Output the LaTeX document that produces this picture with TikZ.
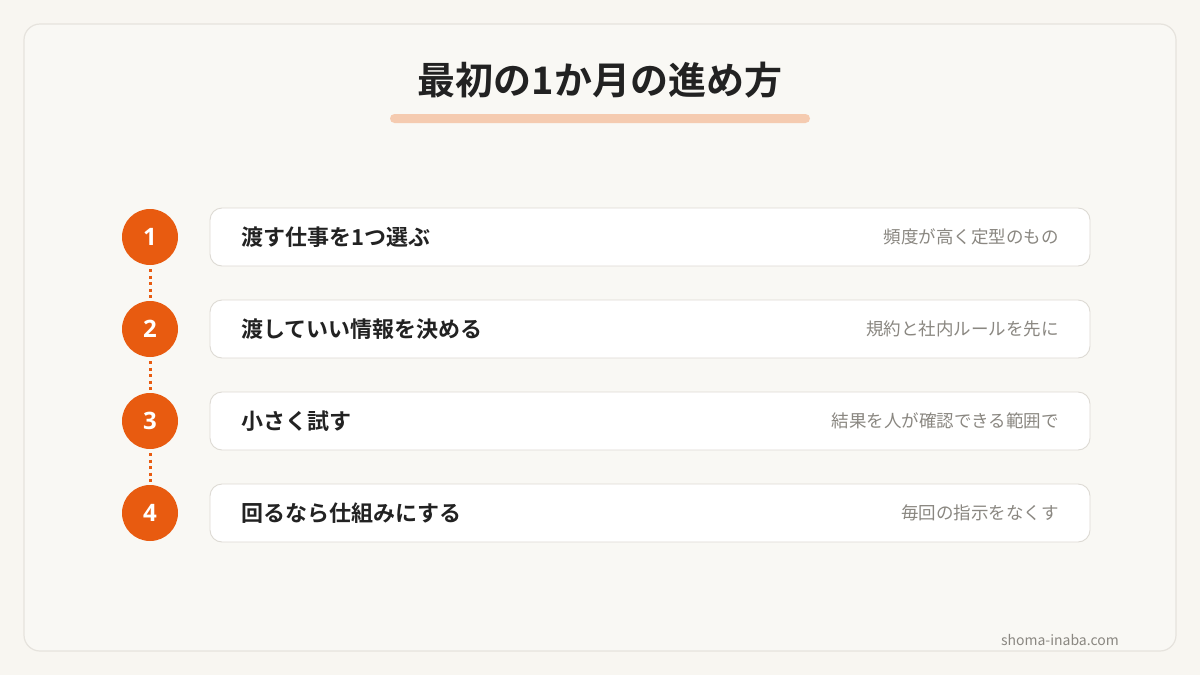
\documentclass[tikz,border=0pt]{standalone}
\usepackage{fontspec}
\setmainfont{Noto Sans CJK JP}[BoldFont={Noto Sans CJK JP Bold}]
\newfontfamily\numfont{Open Sans}
\definecolor{bgc}{HTML}{F8F6F1}
\definecolor{panelc}{HTML}{F9F8F4}
\definecolor{panelb}{HTML}{E6E3DD}
\definecolor{accent}{HTML}{E85B10}
\definecolor{barc}{HTML}{F5CBB0}
\definecolor{boxb}{HTML}{DDDAD4}
\definecolor{darkt}{HTML}{222222}
\definecolor{grayt}{HTML}{8A8781}
\tikzset{
  numcircle/.style={circle, fill=accent, minimum size=56pt, inner sep=0pt, text=white, font=\numfont\bfseries\fontsize{24}{24}\selectfont},
  stepbox/.style={draw=boxb, line width=0.9pt, fill=white, rounded corners=12pt, minimum width=880pt, minimum height=58pt, inner sep=0pt},
  lefttext/.style={anchor=west, inner sep=0pt, text=darkt, font=\bfseries\fontsize{22}{22}\selectfont},
  righttext/.style={anchor=east, inner sep=0pt, text=grayt, font=\fontsize{17.5}{17.5}\selectfont},
  dotline/.style={draw=accent, line width=3pt, dash pattern=on 3pt off 3.5pt},
}
\begin{document}
\begin{tikzpicture}[x=1pt,y=-1pt]
\useasboundingbox (0,0) rectangle (1200,675);
\fill[bgc] (0,0) rectangle (1200,675);
\draw[panelb, fill=panelc, line width=1.2pt, rounded corners=16pt] (24,24) rectangle (1176,651);
\node[text=darkt, font=\bfseries\fontsize{38}{38}\selectfont] (title) at (600,80) {最初の1か月の進め方};
\fill[barc, rounded corners=4.5pt] (390,114) rectangle (810,123);
\foreach \i/\l/\r in {1/渡す仕事を1つ選ぶ/頻度が高く定型のもの, 2/渡していい情報を決める/規約と社内ルールを先に, 3/小さく試す/結果を人が確認できる範囲で, 4/回るなら仕組みにする/毎回の指示をなくす}{
  \pgfmathsetmacro{\yy}{237+92*(\i-1)}
  \node[numcircle] (c\i) at (150,\yy) {\i};
  \node[stepbox] (b\i) at (650,\yy) {};
  \node[lefttext] (l\i) at (241,\yy) {\l};
  \node[righttext] (r\i) at (1059,\yy) {\r};
}
\foreach \a/\b in {1/2,2/3,3/4}{
  \path[dotline] ([yshift=-4pt]c\a.south) -- ([yshift=3pt]c\b.north);
}
\node[anchor=east, inner sep=0pt, text=grayt, font=\fontsize{14}{14}\selectfont] (foot) at (1119,640) {shoma-inaba.com};
\end{tikzpicture}
\end{document}
